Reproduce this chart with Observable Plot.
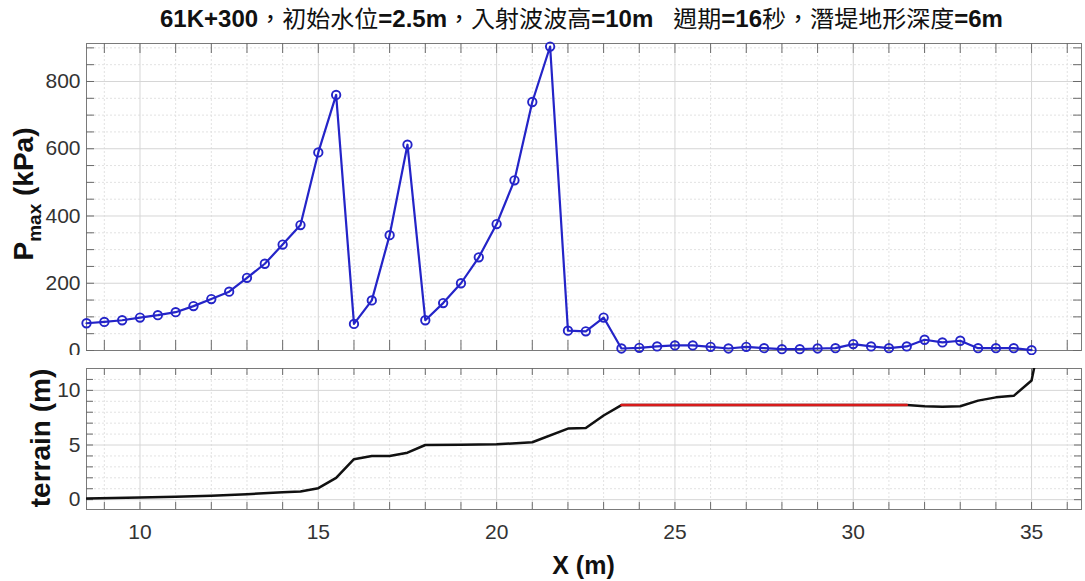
<!DOCTYPE html>
<html>
<head>
<meta charset="utf-8">
<script src="https://cdn.jsdelivr.net/npm/d3@7"></script>
<script src="https://cdn.jsdelivr.net/npm/@observablehq/plot@0.6"></script>
<style>
  html, body { margin: 0; padding: 0; background: #fff; }
  body { width: 1085px; height: 581px; overflow: hidden; position: relative;
         font-family: "Liberation Sans", Arial, Helvetica, sans-serif; }
  #title { position: absolute; left: 0; top: 0; }
  #top { position: absolute; left: 0; top: 30px; }
  #bottom { position: absolute; left: 0; top: 355px; }
  .latin { font-family: "Liberation Sans", Arial, sans-serif; font-weight: bold; }
  .cjk { font-family: "Noto Sans CJK TC", "Noto Sans CJK SC", sans-serif; font-weight: 400; }
</style>
</head>
<body>
<svg id="title" width="1085" height="34">
  <text x="581.5" y="27" text-anchor="middle" font-size="23" fill="#111"
        textLength="843" lengthAdjust="spacingAndGlyphs"><tspan class="latin">61K+300</tspan><tspan class="cjk">，初始水位</tspan><tspan class="latin">=2.5m</tspan><tspan class="cjk">，入射波波高</tspan><tspan class="latin">=10m&#160;&#160;&#160;</tspan><tspan class="cjk">週期</tspan><tspan class="latin">=16</tspan><tspan class="cjk">秒，潛堤地形深度</tspan><tspan class="latin">=6m</tspan></text>
</svg>
<div id="top"></div>
<div id="bottom"></div>
<script>
// Maximum wave pressure along the profile (kPa)
const pmaxX = [8.5, 9, 9.5, 10, 10.5, 11, 11.5, 12, 12.5, 13, 13.5, 14, 14.5, 15, 15.5, 16, 16.5, 17, 17.5, 18,
               18.5, 19, 19.5, 20, 20.5, 21, 21.5, 22, 22.5, 23,
               23.5, 24, 24.5, 25, 25.5, 26, 26.5, 27, 27.5, 28, 28.5, 29, 29.5, 30, 30.5, 31, 31.5, 32, 32.5, 33, 33.5, 34, 34.5, 35];
const pmaxKPa = [81, 85, 90, 98, 105, 114, 132, 153, 175, 216, 258, 315, 373, 589, 760, 79, 149, 343, 612, 90,
                 141, 200, 277, 376, 506, 739, 904, 59, 57, 98,
                 6, 8, 12, 15, 15, 11, 6, 11, 7, 4, 4, 6, 7, 19, 12, 7, 12, 32, 24, 29, 7, 7, 7, 1];

// Terrain elevation (m)
const terrainX = [8.5, 10, 11, 12, 13, 14, 14.5, 15, 15.5, 16, 16.5, 17, 17.5, 18, 19, 20, 21, 22, 22.5, 23, 23.5,
                  31.5, 32, 32.5, 33, 33.5, 34, 34.5, 35, 35.1];
const terrainZ = [0.1, 0.19, 0.26, 0.35, 0.5, 0.68, 0.75, 1.05, 2.0, 3.7, 4.0, 4.0, 4.3, 5.0, 5.02, 5.06, 5.25, 6.5, 6.55, 7.7, 8.65,
                  8.65, 8.55, 8.5, 8.55, 9.06, 9.36, 9.5, 10.9, 12.5];

// Submerged breakwater crest
const crestX = [23.5, 31.5];
const crestZ = [8.65, 8.65];

// Tick labels
const xTickLabels = [10, 15, 20, 25, 30, 35];
const pTickLabels = [0, 200, 400, 600, 800];
const zTickLabels = [0, 5, 10];

const pmax = pmaxX.map((x, i) => ({x, p: pmaxKPa[i]}));
const terrain = terrainX.map((x, i) => ({x, z: terrainZ[i]}));
const crest = crestX.map((x, i) => ({x, z: crestZ[i]}));

const W = 1085, ML = 86, MR = 4;
const PW = W - ML - MR;
const xDomain = [8.5, 36.4];
const xMinor = d3.range(9, 37);
const fontFamily = '"Liberation Sans", Arial, Helvetica, sans-serif';
const frameColor = "#7a7a7a", tickColor = "#6a6a6a";
const gridMajor = "#d6d6d6", gridMinor = "#e2e2e2";
const blue = "#2424c8";

// inward ticks on all four sides of a panel
function boxTicks(H, xLen, yVals, yLen) {
  const o = {stroke: tickColor, strokeWidth: 1};
  return [
    Plot.tickX(xMinor, {x: d => d, insetTop: H - xLen, ...o}),
    Plot.tickX(xMinor, {x: d => d, insetBottom: H - xLen, ...o}),
    Plot.tickY(yVals, {y: d => d, insetRight: PW - yLen, ...o}),
    Plot.tickY(yVals, {y: d => d, insetLeft: PW - yLen, ...o})
  ];
}

// Upper panel: P_max
const H1 = 307;
const pMinor = d3.range(50, 913, 50).filter(v => v % 200 !== 0);
const topPlot = Plot.plot({
  width: W, height: 325,
  marginTop: 13, marginBottom: 5, marginLeft: ML, marginRight: MR,
  style: {fontFamily, fontSize: "21px", color: "#333", background: "white", overflow: "visible"},
  x: {domain: xDomain, axis: null},
  y: {domain: [0, 913]},
  marks: [
    Plot.gridX(xMinor.filter(v => v % 5 !== 0), {stroke: gridMinor, strokeOpacity: 1, strokeDasharray: "2,2"}),
    Plot.gridY(pMinor, {stroke: gridMinor, strokeOpacity: 1, strokeDasharray: "2,2"}),
    Plot.gridX(xTickLabels, {stroke: gridMajor, strokeOpacity: 1}),
    Plot.gridY(pTickLabels, {stroke: gridMajor, strokeOpacity: 1}),
    Plot.frame({stroke: frameColor}),
    ...boxTicks(H1, 10, d3.range(0, 913, 50), 8),
    Plot.axisY(pTickLabels, {tickSize: 0, tickPadding: 6, fontSize: 21, fill: "#333", label: null}),
    Plot.lineY(pmax, {x: "x", y: "p", stroke: blue, strokeWidth: 2.2}),
    Plot.dot(pmax, {x: "x", y: "p", r: 4.2, stroke: blue, strokeWidth: 1.9, fill: "none"})
  ]
});
d3.select(topPlot).append("text")
  .attr("transform", "translate(33, 164) rotate(-90)")
  .attr("text-anchor", "middle")
  .attr("font-family", fontFamily)
  .attr("font-weight", "bold")
  .attr("font-size", 28)
  .attr("fill", "#111")
  .call(t => {
    t.append("tspan").text("P");
    t.append("tspan").attr("font-size", 19).attr("dy", 8).text("max");
    t.append("tspan").attr("dy", -8).text(" (kPa)");
  });
document.getElementById("top").append(topPlot);

// Lower panel: terrain
const H2 = 141;
const bottomPlot = Plot.plot({
  width: W, height: 226,
  marginTop: 13, marginBottom: 72, marginLeft: ML, marginRight: MR,
  style: {fontFamily, fontSize: "21px", color: "#333", background: "white", overflow: "visible"},
  x: {domain: xDomain},
  y: {domain: [-0.9, 12]},
  marks: [
    Plot.gridX(xMinor.filter(v => v % 5 !== 0), {stroke: gridMinor, strokeOpacity: 1, strokeDasharray: "2,2"}),
    Plot.gridY(d3.range(1, 12).filter(v => v % 5 !== 0), {stroke: gridMinor, strokeOpacity: 1, strokeDasharray: "2,2"}),
    Plot.gridX(xTickLabels, {stroke: gridMajor, strokeOpacity: 1}),
    Plot.gridY(zTickLabels, {stroke: gridMajor, strokeOpacity: 1}),
    Plot.frame({stroke: frameColor}),
    ...boxTicks(H2, 7, d3.range(0, 12), 7),
    Plot.axisY(zTickLabels, {tickSize: 0, tickPadding: 6, fontSize: 21, fill: "#333", label: null}),
    Plot.axisX(xTickLabels, {tickSize: 0, tickPadding: 15, fontSize: 21, fill: "#333", label: null}),
    Plot.line(terrain, {x: "x", y: "z", stroke: "#111", strokeWidth: 2.5, clip: true}),
    Plot.line(crest, {x: "x", y: "z", stroke: "#d81b1b", strokeWidth: 2.5})
  ]
});
const bsel = d3.select(bottomPlot);
bsel.append("text")
  .attr("transform", "translate(50, 83) rotate(-90)")
  .attr("text-anchor", "middle")
  .attr("font-family", fontFamily)
  .attr("font-weight", "bold")
  .attr("font-size", 28)
  .attr("fill", "#111")
  .text("terrain (m)");
bsel.append("text")
  .attr("x", 583.5).attr("y", 219)
  .attr("text-anchor", "middle")
  .attr("font-family", fontFamily)
  .attr("font-weight", "bold")
  .attr("font-size", 25)
  .attr("fill", "#111")
  .text("X (m)");
document.getElementById("bottom").append(bottomPlot);
</script>
</body>
</html>
